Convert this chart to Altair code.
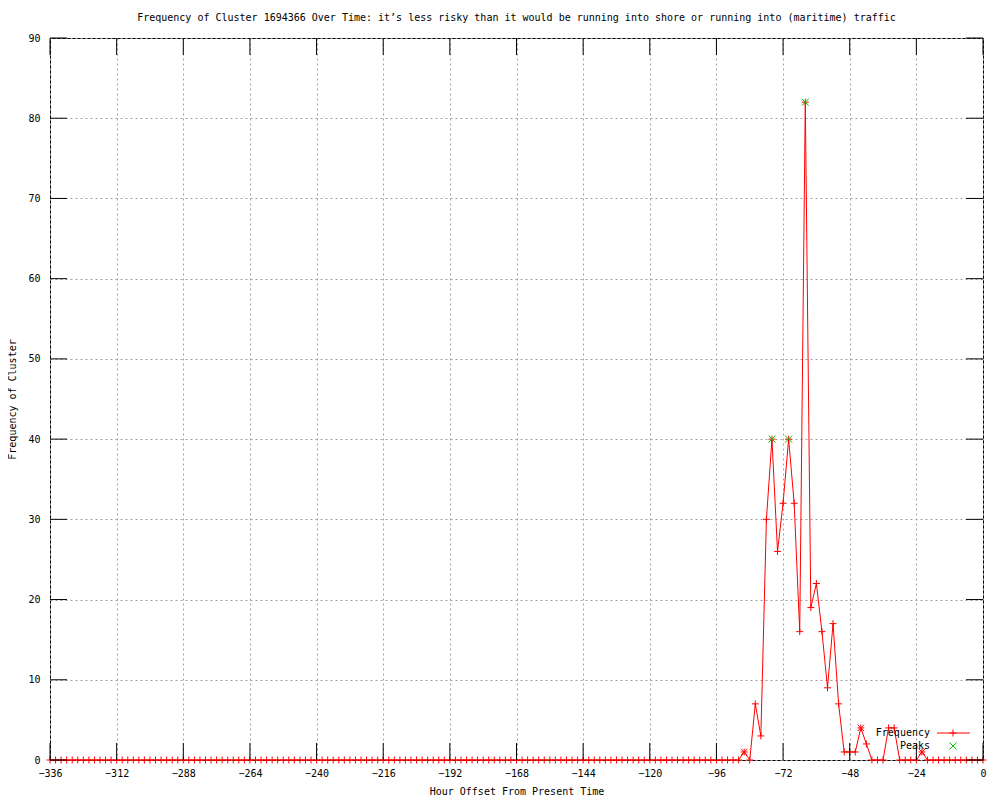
import altair as alt
import pandas as pd

# ---- data -------------------------------------------------------------
hours = list(range(-336, 1, 2))
frequency = [
    0, 0, 0, 0, 0, 0, 0, 0, 0, 0, 0, 0, 0, 0, 0, 0, 0, 0, 0, 0, 0, 0, 0, 0, 0,
    0, 0, 0, 0, 0, 0, 0, 0, 0, 0, 0, 0, 0, 0, 0, 0, 0, 0, 0, 0, 0, 0, 0, 0, 0,
    0, 0, 0, 0, 0, 0, 0, 0, 0, 0, 0, 0, 0, 0, 0, 0, 0, 0, 0, 0, 0, 0, 0, 0, 0,
    0, 0, 0, 0, 0, 0, 0, 0, 0, 0, 0, 0, 0, 0, 0, 0, 0, 0, 0, 0, 0, 0, 0, 0, 0,
    0, 0, 0, 0, 0, 0, 0, 0, 0, 0, 0, 0, 0, 0, 0, 0, 0, 0, 0, 0, 0, 0, 0, 0, 0,
    1, 0, 7, 3, 30, 40, 26, 32, 40, 32, 16, 82, 19, 22, 16, 9, 17, 7, 1, 1,
    1, 4, 2, 0, 0, 0, 4, 4, 0, 0, 0, 0, 1, 0, 0, 0, 0, 0, 0, 0, 0, 0, 0, 0,
]
peak_hours = [-76, -70, -64]
peak_values = [40, 40, 82]
star_hours = [-86, -44, -22]
star_values = [1, 4, 1]

x_ticks = [-336, -312, -288, -264, -240, -216, -192, -168, -144, -120, -96, -72, -48, -24, 0]
y_ticks = [0, 10, 20, 30, 40, 50, 60, 70, 80, 90]

title_text = ("Frequency of Cluster 1694366 Over Time: it\u2019s less risky than it would be "
              "running into shore or running into (maritime) traffic")

# ---- styling ------------------------------------------------------------
W, H = 933, 722
FONT = "DejaVu Sans Mono"
FS = 10
PLUS = "M-1,0L1,0M0,-1L0,1"
CROSS = "M-1,-1L1,1M1,-1L-1,1"
TICK = 17

df = pd.DataFrame({"hour": hours, "freq": frequency})
peaks = pd.DataFrame({"hour": peak_hours, "freq": peak_values})
stars = pd.DataFrame({"hour": star_hours, "freq": star_values})
xt = pd.DataFrame({"v": x_ticks})
yt = pd.DataFrame({"v": y_ticks})

xscale = alt.Scale(domain=[-336, 0], nice=False, zero=False)
yscale = alt.Scale(domain=[0, 90], nice=False)

xaxis = alt.Axis(values=x_ticks, title="Hour Offset From Present Time", grid=True,
                 ticks=False, domain=False, labelPadding=8, titlePadding=8,
                 labelFlush=False, labelOverlap=False)
yaxis = alt.Axis(values=y_ticks, title="Frequency of Cluster", grid=True,
                 ticks=False, domain=False, labelPadding=10, titlePadding=10,
                 labelFlush=False, labelOverlap=False)

base = alt.Chart(df)

line = base.mark_line(color="#ff0000", strokeWidth=1).encode(
    x=alt.X("hour:Q", scale=xscale, axis=xaxis),
    y=alt.Y("freq:Q", scale=yscale, axis=yaxis),
)
pts = base.mark_point(shape=PLUS, filled=False, color="#ff0000", strokeWidth=1,
                      size=49, opacity=1).encode(
    x=alt.X("hour:Q", scale=xscale),
    y=alt.Y("freq:Q", scale=yscale),
)
star_pts = alt.Chart(stars).mark_point(shape=CROSS, filled=False, color="#ff0000",
                                       strokeWidth=1, size=40, opacity=1).encode(
    x=alt.X("hour:Q", scale=xscale),
    y=alt.Y("freq:Q", scale=yscale),
)
peak_pts = alt.Chart(peaks).mark_point(shape=CROSS, filled=False, color="#00c000",
                                       strokeWidth=1, size=49, opacity=1).encode(
    x=alt.X("hour:Q", scale=xscale),
    y=alt.Y("freq:Q", scale=yscale),
)

# inward ticks on all four sides (gnuplot style)
xt_bottom = alt.Chart(xt).mark_rule(color="black", strokeWidth=1).encode(
    x=alt.X("v:Q", scale=xscale), y=alt.value(H - TICK), y2=alt.value(H))
xt_top = alt.Chart(xt).mark_rule(color="black", strokeWidth=1).encode(
    x=alt.X("v:Q", scale=xscale), y=alt.value(0), y2=alt.value(TICK))
yt_left = alt.Chart(yt).mark_rule(color="black", strokeWidth=1).encode(
    y=alt.Y("v:Q", scale=yscale), x=alt.value(0), x2=alt.value(TICK))
yt_right = alt.Chart(yt).mark_rule(color="black", strokeWidth=1).encode(
    y=alt.Y("v:Q", scale=yscale), x=alt.value(W - TICK), x2=alt.value(W))

# legend (bottom-right, inside)
one = alt.Data(values=[{}])
leg_freq_txt = alt.Chart(one).mark_text(text="Frequency", align="right", baseline="middle",
                                         font=FONT, fontSize=FS, color="black").encode(
    x=alt.value(880), y=alt.value(695))
leg_freq_line = alt.Chart(one).mark_rule(color="#ff0000", strokeWidth=1).encode(
    x=alt.value(887), x2=alt.value(920), y=alt.value(695))
leg_freq_pt = alt.Chart(one).mark_point(shape=PLUS, filled=False, color="#ff0000",
                                         strokeWidth=1, size=49, opacity=1).encode(
    x=alt.value(903), y=alt.value(695))
leg_peak_txt = alt.Chart(one).mark_text(text="Peaks", align="right", baseline="middle",
                                         font=FONT, fontSize=FS, color="black").encode(
    x=alt.value(880), y=alt.value(708))
leg_peak_pt = alt.Chart(one).mark_point(shape=CROSS, filled=False, color="#00c000",
                                         strokeWidth=1, size=49, opacity=1).encode(
    x=alt.value(903), y=alt.value(708))

chart = alt.layer(
    line, pts, star_pts, peak_pts,
    xt_bottom, xt_top, yt_left, yt_right,
    leg_freq_txt, leg_freq_line, leg_freq_pt, leg_peak_txt, leg_peak_pt,
).properties(
    width=W, height=H,
    background="white",
    title=alt.TitleParams(title_text, font=FONT, fontSize=FS, fontWeight="normal",
                          color="black", anchor="middle", offset=10),
    autosize=alt.AutoSizeParams(type="none"),
    padding={"left": 42, "top": 30, "right": 8, "bottom": 40},
).configure_view(
    stroke="black", strokeWidth=1,
).configure_axis(
    labelFont=FONT, labelFontSize=FS, labelColor="black",
    titleFont=FONT, titleFontSize=FS, titleFontWeight="normal", titleColor="black",
    gridColor="#a0a0a0", gridDash=[2, 3], gridWidth=1, gridOpacity=1,
)

chart.save("out.html", embed_options={"renderer": "svg", "actions": False})
